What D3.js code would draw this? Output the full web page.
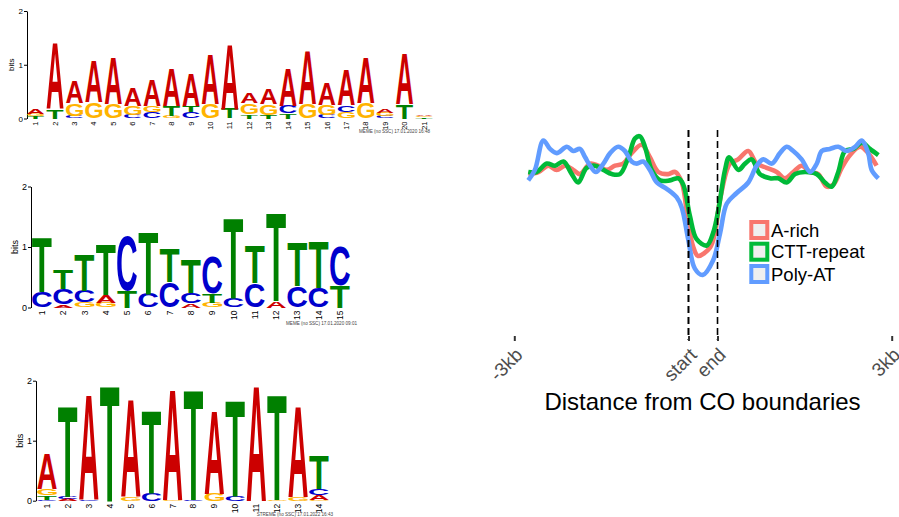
<!DOCTYPE html>
<html>
<head>
<meta charset="utf-8">
<script src="https://cdn.jsdelivr.net/npm/d3@7/dist/d3.min.js"></script>
<style>
  body { margin: 0; background: #fff; }
  svg { display: block; font-family: 'Liberation Sans', Arial, sans-serif; }
</style>
</head>
<body>
<div id="chart"></div>
<script>
// motif logos: each column lists [base, bits] from bottom to top
const motif1Columns = [
  [["T", 0.04], ["G", 0.05], ["A", 0.09]],
  [["T", 0.17], ["A", 1.23]],
  [["C", 0.05], ["G", 0.23], ["A", 0.41]],
  [["G", 0.30], ["A", 0.78]],
  [["G", 0.27], ["A", 0.86]],
  [["C", 0.07], ["G", 0.17], ["A", 0.34]],
  [["C", 0.12], ["G", 0.12], ["A", 0.47]],
  [["G", 0.05], ["T", 0.19], ["A", 0.69]],
  [["C", 0.12], ["T", 0.11], ["A", 0.60]],
  [["G", 0.27], ["A", 0.91]],
  [["T", 0.18], ["A", 1.20]],
  [["T", 0.08], ["G", 0.20], ["A", 0.18]],
  [["T", 0.07], ["G", 0.20], ["A", 0.29]],
  [["T", 0.10], ["C", 0.14], ["A", 0.69]],
  [["G", 0.27], ["A", 1.00]],
  [["C", 0.06], ["G", 0.20], ["A", 0.40]],
  [["G", 0.12], ["C", 0.13], ["A", 0.66]],
  [["G", 0.28], ["A", 0.84]],
  [["C", 0.04], ["G", 0.06], ["A", 0.08]],
  [["T", 0.27], ["A", 0.93]],
  [["T", 0.02], ["G", 0.03], ["A", 0.03]]
];
const motif2Columns = [
  [["C", 0.26], ["T", 0.91]],
  [["A", 0.05], ["C", 0.25], ["T", 0.33]],
  [["G", 0.08], ["C", 0.19], ["T", 0.60]],
  [["G", 0.08], ["A", 0.13], ["T", 0.84]],
  [["T", 0.27], ["C", 0.91]],
  [["C", 0.23], ["T", 1.03]],
  [["C", 0.42], ["T", 0.56]],
  [["A", 0.07], ["C", 0.17], ["T", 0.56]],
  [["G", 0.08], ["T", 0.15], ["C", 0.60]],
  [["C", 0.15], ["T", 1.32]],
  [["C", 0.40], ["T", 0.61]],
  [["A", 0.11], ["T", 1.45]],
  [["C", 0.35], ["T", 0.72]],
  [["C", 0.33], ["T", 0.77]],
  [["T", 0.37], ["C", 0.65]]
];
const motif3Columns = [
  [["C", 0.02], ["T", 0.07], ["G", 0.10], ["A", 0.58]],
  [["A", 0.03], ["C", 0.04], ["T", 1.51]],
  [["C", 0.03], ["A", 1.75]],
  [["T", 1.93]],
  [["G", 0.07], ["A", 1.62]],
  [["C", 0.12], ["T", 1.38]],
  [["G", 0.02], ["A", 1.84]],
  [["C", 0.02], ["T", 1.84]],
  [["G", 0.12], ["A", 1.38]],
  [["C", 0.08], ["T", 1.60]],
  [["A", 1.93]],
  [["G", 0.02], ["T", 1.75]],
  [["G", 0.06], ["A", 1.52]],
  [["G", 0.02], ["A", 0.08], ["C", 0.10], ["T", 0.56]]
];
const motifFooters = [
  "MEME (no SSC) 17.01.2020 16:48",
  "MEME (no SSC) 17.01.2020 09:01",
  "STREME (no SSC) 17.01.2022 16:43"
];
const bitTicks = [0, 1, 2];
const baseColors = { A: "#cc0000", C: "#0000cc", G: "#ffb300", T: "#008000" };

// profile around CO boundaries: [bin, relative signal]
// bins 0-60 upstream 3kb, 60-70 CO body, 70-130 downstream 3kb
const profileTickBins = [0, 60, 70, 130];
const profileTickLabels = ["-3kb", "start", "end", "3kb"];
const boundaryBins = [60, 70];
const seriesNames = ["A-rich", "CTT-repeat", "Poly-AT"];
const seriesColors = ["#f8766d", "#00ba38", "#619cff"];

const aRichProfile = [
  [4.8, 0.79], [8.3, 0.80], [11.7, 0.83], [14.6, 0.81], [17.5, 0.83], [20.3, 0.81],
  [22.6, 0.79], [26.1, 0.84], [28.9, 0.83], [31.8, 0.81], [34.7, 0.83], [37.5, 0.84],
  [40.4, 0.89], [43.9, 0.93], [46.7, 0.87], [49.6, 0.80], [53.0, 0.79], [55.4, 0.80],
  [57.7, 0.75], [59.9, 0.56], [61.7, 0.44], [63.3, 0.40], [67.4, 0.44], [69.1, 0.51],
  [70.9, 0.67], [74.3, 0.84], [77.1, 0.86], [80.6, 0.90], [83.5, 0.84], [86.9, 0.82],
  [90.4, 0.80], [93.2, 0.77], [96.1, 0.80], [99.0, 0.83], [101.9, 0.80], [104.7, 0.79],
  [107.6, 0.73], [109.9, 0.74], [112.8, 0.82], [115.6, 0.88], [119.1, 0.92], [121.9, 0.89],
  [124.8, 0.83]
];
const cttRepeatProfile = [
  [4.8, 0.80], [7.7, 0.80], [11.2, 0.84], [14.0, 0.83], [16.9, 0.85], [19.8, 0.79],
  [22.0, 0.75], [24.9, 0.82], [27.8, 0.83], [30.7, 0.81], [33.6, 0.79], [36.4, 0.79],
  [39.3, 0.87], [41.6, 0.96], [43.3, 0.97], [45.0, 0.92], [47.3, 0.81], [50.2, 0.76],
  [53.6, 0.76], [56.5, 0.77], [58.2, 0.74], [60.5, 0.59], [62.8, 0.48], [66.3, 0.45],
  [68.5, 0.51], [70.3, 0.62], [72.6, 0.81], [74.0, 0.87], [77.2, 0.81], [79.5, 0.84],
  [81.8, 0.86], [84.6, 0.79], [88.1, 0.77], [90.9, 0.77], [93.8, 0.75], [96.7, 0.79],
  [100.1, 0.80], [104.2, 0.79], [107.0, 0.75], [109.3, 0.73], [111.6, 0.80], [113.9, 0.90],
  [116.8, 0.91], [119.7, 0.94], [122.5, 0.91], [125.4, 0.88]
];
const polyAtProfile = [
  [4.8, 0.76], [7.1, 0.81], [10.0, 0.95], [12.3, 0.91], [14.6, 0.89], [18.1, 0.92],
  [20.3, 0.90], [22.6, 0.91], [24.4, 0.87], [26.1, 0.83], [28.1, 0.80], [30.7, 0.84],
  [33.0, 0.89], [35.8, 0.92], [38.1, 0.90], [40.4, 0.85], [42.2, 0.84], [44.4, 0.85],
  [46.7, 0.81], [49.1, 0.75], [52.5, 0.72], [55.9, 0.68], [57.7, 0.63], [59.9, 0.48],
  [62.2, 0.34], [64.9, 0.31], [68.5, 0.38], [70.9, 0.51], [73.2, 0.65], [76.6, 0.70],
  [80.6, 0.75], [83.5, 0.83], [85.8, 0.86], [88.7, 0.84], [91.5, 0.89], [93.8, 0.92],
  [96.1, 0.90], [99.0, 0.86], [101.9, 0.80], [104.2, 0.84], [105.9, 0.90], [108.7, 0.91],
  [111.6, 0.92], [114.5, 0.90], [117.4, 0.92], [119.7, 0.95], [121.9, 0.89], [123.1, 0.81],
  [125.4, 0.77]
];
const profiles = [aRichProfile, cttRepeatProfile, polyAtProfile];

const width = 899, height = 517;
const svg = d3.select("#chart").append("svg")
  .attr("width", width)
  .attr("height", height);
svg.append("rect").attr("width", width).attr("height", height).attr("fill", "#fff");

// ink box of each letter, used to stretch glyphs into their cells
const ctx = document.createElement("canvas").getContext("2d");
ctx.font = "bold 100px 'Liberation Sans', Arial, sans-serif";
const glyph = {};
"ACGT".split("").forEach(ch => {
  const m = ctx.measureText(ch);
  glyph[ch] = {
    left: m.actualBoundingBoxLeft, right: m.actualBoundingBoxRight,
    ascent: m.actualBoundingBoxAscent, descent: m.actualBoundingBoxDescent
  };
});

const logoLayouts = [
  { axisX: 27, firstX: 35.6, lastX: 424, y0: 118.5, y2: 11, fill: 0.88, font: 8, numFont: 7.5, footerX: 430, footerY: 133 },
  { axisX: 31, firstX: 42, lastX: 340, y0: 307.5, y2: 186.5, fill: 0.93, font: 9, numFont: 8.5, footerX: 357, footerY: 325 },
  { axisX: 36, firstX: 47, lastX: 319, y0: 500.7, y2: 380.7, fill: 0.93, font: 9, numFont: 8.5, footerX: 333, footerY: 516 }
];

function drawLogo(cfg, columns, footer) {
  const g = svg.append("g");
  const n = columns.length;
  const x = d3.scaleLinear().domain([1, n]).range([cfg.firstX, cfg.lastX]);
  const y = d3.scaleLinear().domain([0, 2]).range([cfg.y0, cfg.y2]);
  const step = (cfg.lastX - cfg.firstX) / (n - 1);
  const colW = step * cfg.fill;

  const yAxisG = g.append("g")
    .attr("transform", "translate(" + cfg.axisX + ",0)")
    .call(d3.axisLeft(y).tickValues(bitTicks).tickFormat(d3.format("d")).tickSize(3).tickSizeOuter(0));
  yAxisG.select(".domain").attr("stroke", "#000").attr("stroke-width", 1);
  yAxisG.selectAll(".tick line").attr("stroke", "#000");
  yAxisG.selectAll(".tick text")
    .attr("font-size", cfg.font + "px")
    .attr("font-family", "'Liberation Sans', Arial, sans-serif")
    .attr("fill", "#000")
    .attr("x", -4);

  g.append("text")
    .attr("transform", "translate(" + (cfg.axisX - 13) + "," + y(1) + ") rotate(-90)")
    .attr("text-anchor", "middle")
    .attr("font-size", cfg.font + "px")
    .attr("fill", "#000")
    .text("bits");

  columns.forEach((col, i) => {
    const cx = x(i + 1);
    let cum = 0;
    col.forEach(([base, bits]) => {
      const yb = y(cum), yt = y(cum + bits);
      cum += bits;
      const h = yb - yt;
      if (h <= 0.1) return;
      const m = glyph[base];
      const sx = colW / (m.left + m.right);
      const sy = h / (m.ascent + m.descent);
      g.append("text")
        .attr("transform", "translate(" + (cx - colW / 2) + "," + yt + ") scale(" + sx + "," + sy + ") translate(" + m.left + "," + m.ascent + ")")
        .attr("font-size", "100px")
        .attr("font-weight", "bold")
        .attr("fill", baseColors[base])
        .text(base);
    });

    g.append("text")
      .attr("transform", "translate(" + cx + "," + (cfg.y0 + 3) + ") rotate(-90)")
      .attr("text-anchor", "end")
      .attr("dy", "0.35em")
      .attr("font-size", cfg.numFont + "px")
      .attr("fill", "#000")
      .text(i + 1);
  });

  g.append("text")
    .attr("x", cfg.footerX)
    .attr("y", cfg.footerY)
    .attr("text-anchor", "end")
    .attr("font-size", "4.6px")
    .attr("fill", "#444")
    .text(footer);
}

drawLogo(logoLayouts[0], motif1Columns, motifFooters[0]);
drawLogo(logoLayouts[1], motif2Columns, motifFooters[1]);
drawLogo(logoLayouts[2], motif3Columns, motifFooters[2]);

// ---- profile plot ----
const px = d3.scaleLinear().domain([0, 130]).range([514.3, 891.7]);
const py = d3.scaleLinear().domain([0, 1]).range([340, 130]);
const pg = svg.append("g");

const line = d3.line()
  .x(d => px(d[0]))
  .y(d => py(d[1]))
  .curve(d3.curveCatmullRom.alpha(0.5));

profiles.forEach((series, i) => {
  pg.append("path")
    .datum(series)
    .attr("d", line)
    .attr("fill", "none")
    .attr("stroke", seriesColors[i])
    .attr("stroke-width", 4.6)
    .attr("stroke-linejoin", "round");
});

boundaryBins.forEach((b, i) => {
  pg.append("line")
    .attr("x1", px(b)).attr("x2", px(b))
    .attr("y1", py(1)).attr("y2", py(0))
    .attr("stroke", "#000")
    .attr("stroke-width", i === 0 ? 2 : 1.6)
    .attr("stroke-dasharray", "7,4");
});

const xAxisG = pg.append("g")
  .attr("transform", "translate(0,336)")
  .call(d3.axisBottom(px).tickValues(profileTickBins).tickFormat((d, i) => profileTickLabels[i]).tickSize(5).tickSizeOuter(0));
xAxisG.select(".domain").remove();
xAxisG.selectAll(".tick line").attr("stroke", "#333").attr("stroke-width", 2);
xAxisG.selectAll(".tick text")
  .attr("font-size", "19px")
  .attr("font-family", "'Liberation Sans', Arial, sans-serif")
  .attr("fill", "#4d4d4d")
  .attr("text-anchor", "end")
  .attr("y", 0).attr("dy", 0)
  .attr("transform", "translate(9,20) rotate(-45)");

pg.append("text")
  .attr("x", 702.5)
  .attr("y", 410)
  .attr("text-anchor", "middle")
  .attr("font-size", "24px")
  .attr("fill", "#000")
  .text("Distance from CO boundaries");

// legend
const legendRows = [230, 251.7, 274];
seriesNames.forEach((name, i) => {
  pg.append("rect")
    .attr("x", 751.3).attr("y", legendRows[i] - 8)
    .attr("width", 16).attr("height", 16)
    .attr("fill", "#efefef")
    .attr("stroke", seriesColors[i])
    .attr("stroke-width", 4);
  pg.append("text")
    .attr("x", 771)
    .attr("y", legendRows[i] + 6.5)
    .attr("font-size", "18.5px")
    .attr("fill", "#000")
    .text(name);
});
</script>
</body>
</html>
